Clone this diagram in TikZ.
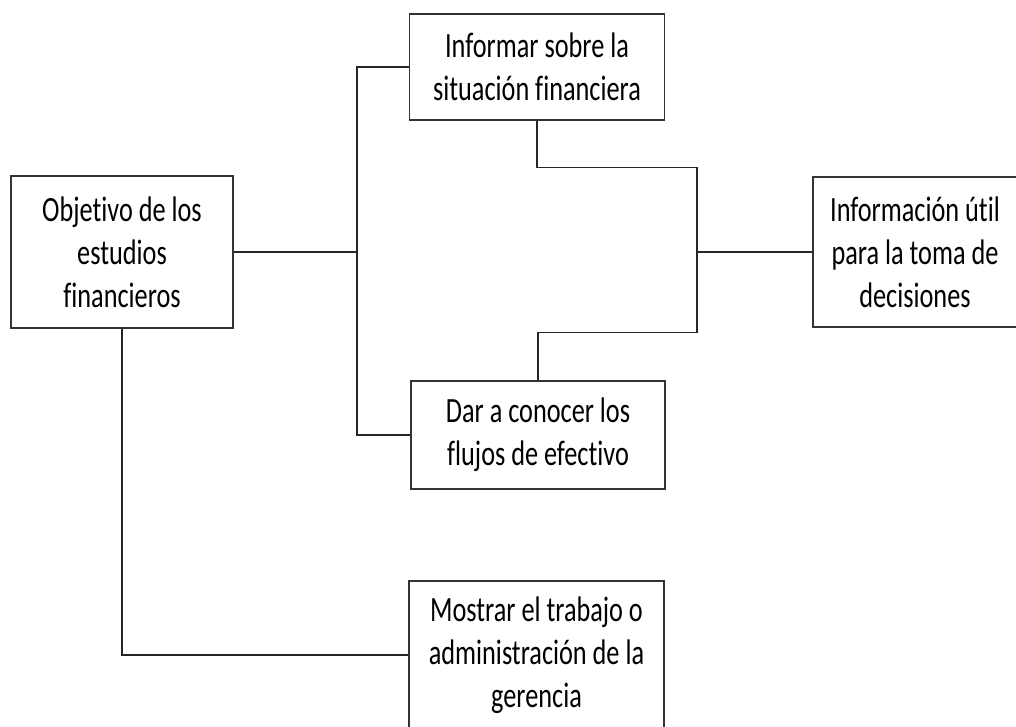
\documentclass[tikz,border=0pt]{standalone}
\usepackage{fontspec}
\setmainfont{Carlito}[FakeStretch=0.74,Ligatures=NoCommon]
\begin{document}
\begin{tikzpicture}[x=1pt,y=-1pt,
  box/.style={draw=black!80,line width=1.3pt,fill=white,align=center,inner sep=0pt,
    font=\fontsize{35.5}{43}\selectfont},
  link/.style={draw=black!85,line width=1.3pt}]
\useasboundingbox (0,0) rectangle (1016,726);
\node[box,minimum width=222pt,minimum height=152pt] (A) at (122,252) {Objetivo de los\\estudios\\financieros};
\node[box,minimum width=255pt,minimum height=106pt] (B) at (537,67) {Informar sobre la\\situación financiera};
\node[box,minimum width=254pt,minimum height=108pt] (C) at (538,435) {Dar a conocer los\\flujos de efectivo};
\node[box,minimum width=255pt,minimum height=148pt] (D) at (536.5,655) {Mostrar el trabajo o\\administración de la\\gerencia};
\node[box,minimum width=204pt,minimum height=150pt] (E) at (915,252) {Información útil\\para la toma de\\decisiones};
\coordinate (trunk) at (357,252);
\coordinate (merge) at (697,252);
\draw[link] (A.east) -- (trunk);
\draw[link] (B.west) -| (trunk) |- (C.west);
\draw[link] (B.south) -- ++(0,47) -| (merge);
\draw[link] (C.north) -- ++(0,-48) -| (merge);
\draw[link] (merge) -- (E.west);
\draw[link] (A.south) |- (D.west);
\end{tikzpicture}
\end{document}
